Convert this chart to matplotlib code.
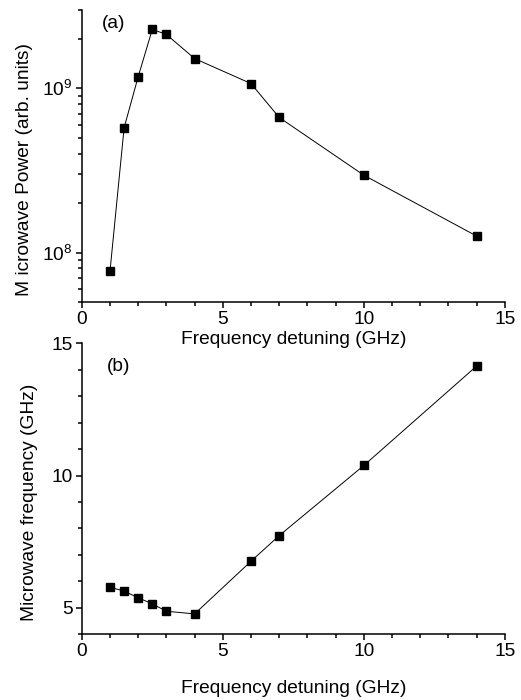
import numpy as np
import matplotlib
matplotlib.use("Agg")
import matplotlib.pyplot as plt
from matplotlib.ticker import MultipleLocator, LogLocator, NullFormatter

plt.rcParams['font.family'] = ['Liberation Sans', 'DejaVu Sans']
plt.rcParams['mathtext.default'] = 'regular'

# detuning (GHz) and measured values
detuning = [1, 1.5, 2, 2.5, 3, 4, 6, 7, 10, 14]
power = [7.7e7, 5.75e8, 1.18e9, 2.29e9, 2.13e9, 1.52e9, 1.07e9, 6.65e8, 2.96e8, 1.26e8]
mw_freq = [5.78, 5.63, 5.38, 5.15, 4.87, 4.77, 6.76, 7.73, 10.38, 14.14]

FS = 13.8

fig = plt.figure(figsize=(5.21, 7.0), dpi=100)
ax1 = fig.add_axes([0.157, 0.5686, 0.812, 0.417])
ax2 = fig.add_axes([0.157, 0.0939, 0.812, 0.4157])
# keep the upper x label visible where it runs into the lower panel
ax2.patch.set_alpha(0)
ax1.set_zorder(3)
ax1.patch.set_alpha(0)

for ax in (ax1, ax2):
    for s in ('top', 'right'):
        ax.spines[s].set_visible(False)
    for s in ('left', 'bottom'):
        ax.spines[s].set_linewidth(1.1)
    ax.set_xlim(0, 15)
    ax.xaxis.set_major_locator(MultipleLocator(5))
    ax.xaxis.set_minor_locator(MultipleLocator(1))
    ax.tick_params(which='major', direction='out', length=4.5, width=1.1,
                   labelsize=FS, pad=2)
    ax.tick_params(which='minor', direction='out', length=3, width=1.1)

# (a) power vs detuning, log scale
ax1.plot(detuning, power, color='black', lw=0.7, marker='s', ms=5.5,
         mfc='black', mec='black')
ax1.set_yscale('log')
ax1.set_ylim(5e7, 3e9)
ax1.yaxis.set_major_locator(LogLocator(base=10))
ax1.yaxis.set_minor_locator(LogLocator(base=10, subs=np.arange(2, 10)))
ax1.yaxis.set_minor_formatter(NullFormatter())
ax1.set_xlabel('Frequency detuning (GHz)', fontsize=FS, labelpad=2.5)
ax1.set_ylabel('M icrowave Power (arb. units)', fontsize=FS)
ax1.yaxis.set_label_coords(-0.116, 0.454)
ax1.text(0.047, 0.955, '(a)', transform=ax1.transAxes, fontsize=FS,
         va='center', ha='left')

# (b) microwave frequency vs detuning
ax2.plot(detuning, mw_freq, color='black', lw=0.7, marker='s', ms=5.5,
         mfc='black', mec='black')
ax2.set_ylim(4, 15)
ax2.yaxis.set_major_locator(MultipleLocator(5))
ax2.yaxis.set_minor_locator(MultipleLocator(1))
ax2.set_xlabel('Frequency detuning (GHz)', fontsize=FS, labelpad=14)
ax2.set_ylabel('Microwave frequency (GHz)', fontsize=FS)
ax2.yaxis.set_label_coords(-0.104, 0.453)
ax2.text(0.059, 0.919, '(b)', transform=ax2.transAxes, fontsize=FS,
         va='center', ha='left')

fig.savefig('out.png', dpi=100)
